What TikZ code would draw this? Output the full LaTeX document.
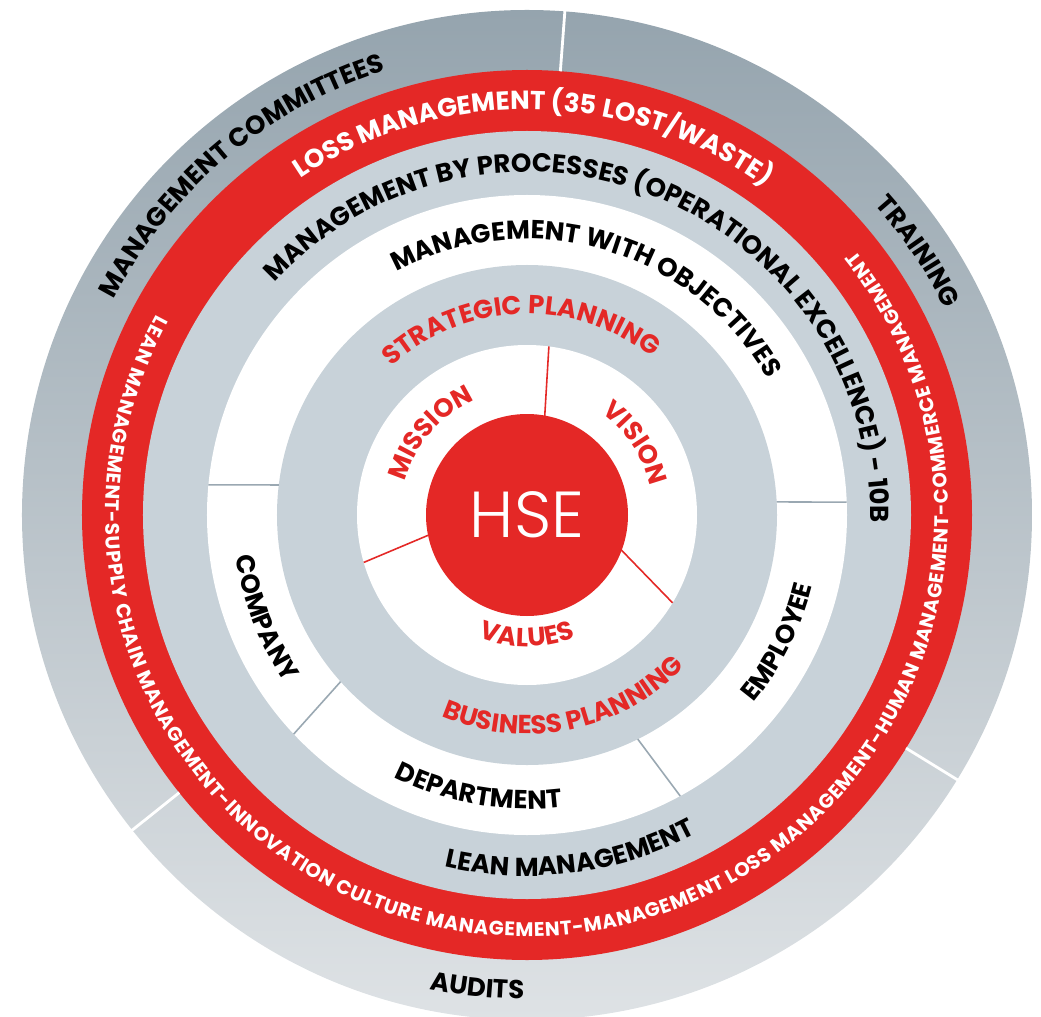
\documentclass[tikz,border=0pt]{standalone}
\usepackage{fontspec}
\usepackage{tikz}
\usetikzlibrary{decorations.text}
\newfontfamily\ringfont{Poppins}
\IfFontExistsTF{Poppins Light}{\newfontfamily\hsefont{Poppins Light}}{\newfontfamily\hsefont{Poppins}}
\definecolor{hsered}{HTML}{E42826}
\definecolor{ringgray}{HTML}{C8D2D9}
\definecolor{outertop}{HTML}{95A4AE}
\definecolor{outerbot}{HTML}{DEE2E5}
\definecolor{divgray}{HTML}{9AA8B2}
\newcommand{\bigcaps}{\ringfont\bfseries\fontsize{14.8}{16}\selectfont}
\newcommand{\longcaps}{\ringfont\bfseries\fontsize{11.2}{12}\selectfont}

\begin{document}
\begin{tikzpicture}[curved/.style={decorate, decoration={text along path, text align=center, text={#1}}}, fitted/.style={decorate, decoration={text along path, text align={fit to path}, text={#1}}}, reddiv/.style={hsered, line width=0.9pt}, graydiv/.style={divgray, line width=0.9pt}, outerdiv/.style={white, line width=1.6pt}]
\useasboundingbox (-10.54,-10.02) rectangle (10.28,10.30);
\shade[top color=outertop, bottom color=outerbot] (0,0) circle (10.1);
\fill[hsered] (0,0) circle (8.9);
\fill[ringgray] (0,0) circle (7.68);
\fill[white] (0,0) circle (6.4);
\fill[ringgray] (0,0) circle (5.0);
\fill[white] (0,0) circle (3.4);
\draw[outerdiv] (85.7:8.9) -- (85.7:10.2);
\draw[outerdiv] (218.6:8.9) -- (218.6:10.2);
\draw[outerdiv] (-31.6:8.9) -- (-31.6:10.2);
\draw[graydiv] (174.6:6.4) -- (173.1:5.0);
\draw[graydiv] (2.3:6.4) -- (3.0:5.0);
\draw[graydiv] (223.2:6.4) -- (221.8:5.0);
\draw[graydiv] (298.6:6.4) -- (296.3:5.0);
\draw[reddiv] (82.6:3.4) -- (79.8:2.0);
\draw[reddiv] (196.2:3.4) -- (191.5:2.0);
\draw[reddiv] (-31.1:3.4) -- (-20.2:2.0);
\node[circle, fill=hsered, minimum size=4.04cm, inner sep=0pt, text=white, font=\hsefont\fontsize{37}{40}\selectfont] (hse) at (0,0) {HSE};
\path[curved={|\bigcaps\color{black}|MANAGEMENT COMMITTEES}] (200:9.32) arc[start angle=200, end angle=60, radius=9.32];
\path[curved={|\bigcaps\color{black}|TRAINING}] (94:9.32) arc[start angle=94, end angle=-26, radius=9.32];
\path[curved={|\bigcaps\color{black}|AUDITS}] (204:9.68) arc[start angle=204, end angle=324, radius=9.68];
\path[curved={|\bigcaps\color{white}|LOSS MANAGEMENT (35 LOST/WASTE)}] (179:8.11) arc[start angle=179, end angle=-1, radius=8.11];
\path[fitted={|\longcaps\color{white}|LEAN MANAGEMENT-SUPPLY CHAIN MANAGEMENT-INNOVATION CULTURE MANAGEMENT-MANAGEMENT LOSS MANAGEMENT-HUMAN MANAGEMENT-COMMERCE MANAGEMENT}] (151.6:8.43) arc[start angle=151.6, end angle=398.8, radius=8.43];
\path[curved={|\bigcaps\color{black}|MANAGEMENT BY PROCESSES (OPERATIONAL EXCELLENCE) - 10B}] (248:6.86) arc[start angle=248, end angle=-112, radius=6.86];
\path[curved={|\bigcaps\color{black}|LEAN MANAGEMENT}] (187.4:7.22) arc[start angle=187.4, end angle=367.4, radius=7.22];
\path[curved={|\bigcaps\color{black}|MANAGEMENT WITH OBJECTIVES}] (253.9:5.52) arc[start angle=253.9, end angle=-106.1, radius=5.52];
\path[curved={|\bigcaps\color{black}|COMPANY}] (111.5:5.88) arc[start angle=111.5, end angle=291.5, radius=5.88];
\path[curved={|\bigcaps\color{black}|EMPLOYEE}] (-116.8:5.88) arc[start angle=-116.8, end angle=63.2, radius=5.88];
\path[curved={|\bigcaps\color{black}|DEPARTMENT}] (170:5.88) arc[start angle=170, end angle=350, radius=5.88];
\path[curved={|\bigcaps\color{hsered}|STRATEGIC PLANNING}] (182:4.02) arc[start angle=182, end angle=2, radius=4.02];
\path[curved={|\bigcaps\color{hsered}|BUSINESS PLANNING}] (191.5:4.38) arc[start angle=191.5, end angle=371.5, radius=4.38];
\path[curved={|\bigcaps\color{hsered}|MISSION}] (229.7:2.53) arc[start angle=229.7, end angle=49.7, radius=2.53];
\path[curved={|\bigcaps\color{hsered}|VISION}] (123.5:2.53) arc[start angle=123.5, end angle=-56.5, radius=2.53];
\path[curved={|\bigcaps\color{hsered}|VALUES}] (180:2.63) arc[start angle=180, end angle=360, radius=2.63];
\end{tikzpicture}
\end{document}
